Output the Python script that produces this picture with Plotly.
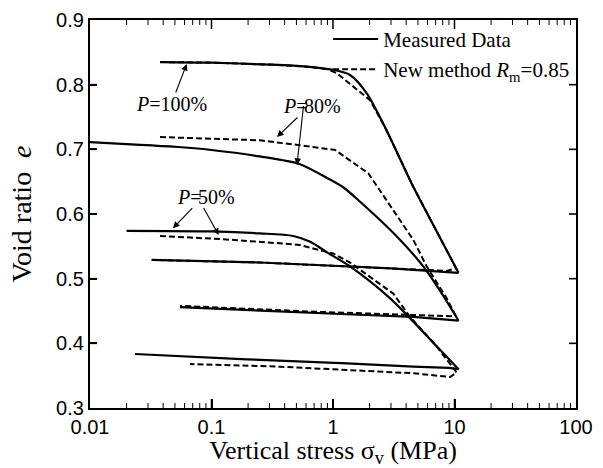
import plotly.graph_objects as go
import math

# ---- data ----
# P = 100 %
p100_load_x = [0.0377, 0.1, 0.3, 0.6, 1.0, 1.38, 1.89, 2.7, 4.58, 7.0, 10.8]
p100_load_e = [0.835, 0.834, 0.831, 0.828, 0.823, 0.815, 0.787, 0.733, 0.642, 0.576, 0.509]
p100_unload_x = [10.8, 6.0, 3.0, 1.0, 0.25, 0.0322]
p100_unload_e = [0.509, 0.512, 0.516, 0.520, 0.525, 0.529]
p100_model_x = [0.0377, 0.1, 0.3, 0.6, 0.9, 1.07, 2.02, 2.7, 4.58, 7.0, 10.3, 8.6, 3.0, 1.0, 0.25, 0.0322]
p100_model_e = [0.835, 0.834, 0.831, 0.828, 0.824, 0.818, 0.776, 0.733, 0.642, 0.576, 0.516, 0.512, 0.516, 0.520, 0.525, 0.529]

# P = 80 %
p80_load_x = [0.01, 0.02, 0.05, 0.1, 0.25, 0.534, 0.887, 1.22, 1.67, 3.13, 5.53, 8.05, 10.8]
p80_load_e = [0.711, 0.708, 0.704, 0.699, 0.689, 0.677, 0.656, 0.641, 0.619, 0.571, 0.519, 0.474, 0.435]
p80_unload_x = [10.8, 4.58, 1.3, 0.366, 0.055]
p80_unload_e = [0.435, 0.441, 0.445, 0.449, 0.456]
p80_model_x = [0.0377, 0.1, 0.25, 0.5, 1.04, 1.95, 3.13, 4.58, 5.9, 8.6, 10.2, 9.2, 2.44, 0.69, 0.055]
p80_model_e = [0.719, 0.717, 0.714, 0.707, 0.699, 0.663, 0.606, 0.560, 0.519, 0.470, 0.443, 0.442, 0.4455, 0.449, 0.458]

# P = 50 %
p50_load_x = [0.020, 0.1, 0.25, 0.471, 0.65, 0.887, 1.38, 2.94, 4.3, 7.0, 10.8]
p50_load_e = [0.574, 0.573, 0.570, 0.566, 0.557, 0.541, 0.519, 0.470, 0.439, 0.397, 0.360]
p50_unload_x = [10.8, 9.0, 4.58, 1.3, 0.195, 0.0235]
p50_unload_e = [0.360, 0.362, 0.364, 0.369, 0.3753, 0.3835]
p50_model_x = [0.0377, 0.125, 0.344, 0.534, 1.0, 1.38, 3.13, 4.3, 7.0, 10.4, 9.2, 4.58, 1.3, 0.366, 0.0665]
p50_model_e = [0.566, 0.561, 0.555, 0.552, 0.539, 0.525, 0.477, 0.441, 0.397, 0.355, 0.348, 0.3537, 0.3588, 0.3639, 0.368]

x_tickvals = [0.01, 0.1, 1, 10, 100]
x_ticktext = ["0.01", "0.1", "1", "10", "100"]
x_minor_tickvals = [d * k for d in [0.01, 0.1, 1, 10] for k in range(2, 10)]
y_tickvals = [0.3, 0.4, 0.5, 0.6, 0.7, 0.8, 0.9]
y_ticktext = ["0.3", "0.4", "0.5", "0.6", "0.7", "0.8", "0.9"]

# curve labels: each text part sits at (x, e) with given anchor and carries one arrow to a curve
label_text = ["<i>P</i>=100%", "<i>P</i>=", "80%", "<i>P</i>=", "50%"]
label_anchor = ["center", "right", "left", "right", "left"]
label_shift = [0, 3, -3, 3, -3]
label_x = [0.0467, 0.605, 0.605, 0.0807, 0.0807]
label_e = [0.770, 0.767, 0.767, 0.627, 0.627]
label_head_x = [0.0625, 0.3269, 0.535, 0.0455, 0.1213]
label_head_e = [0.8320, 0.7191, 0.6758, 0.5779, 0.5675]

SERIF = "Liberation Serif, Times New Roman, serif"
SANS = "Liberation Sans, Arial, sans-serif"

W, H = 603, 468
M = dict(l=90, r=27, t=20, b=60)
plot_w = W - M["l"] - M["r"]
plot_h = H - M["t"] - M["b"]
X_RANGE = [-2, 2]
Y_RANGE = [0.3, 0.9]

fig = go.Figure()

solid = dict(color="black", width=2.2)
dashed = dict(color="black", width=2.0, dash="6px,3px")

model_name = "New method <i>R</i><sub>m</sub>=0.85"
for i, (xs, es) in enumerate([(p100_model_x, p100_model_e), (p80_model_x, p80_model_e), (p50_model_x, p50_model_e)]):
    fig.add_trace(go.Scatter(x=xs, y=es, mode="lines", line=dashed,
                             name=model_name, showlegend=(i == 0), legendrank=2))
for i, (xs, es) in enumerate([(p100_load_x, p100_load_e), (p80_load_x, p80_load_e), (p50_load_x, p50_load_e)]):
    fig.add_trace(go.Scatter(x=xs, y=es, mode="lines", line=dict(solid, shape="spline", smoothing=0.8),
                             name="Measured Data", showlegend=(i == 0), legendrank=1))
for xs, es in [(p100_unload_x, p100_unload_e), (p80_unload_x, p80_unload_e), (p50_unload_x, p50_unload_e)]:
    fig.add_trace(go.Scatter(x=xs, y=es, mode="lines", line=solid,
                             name="Measured Data", showlegend=False))

# inward tick marks on all four sides, built from the tick lists (pixel length -> axis units)
e_per_px = (Y_RANGE[1] - Y_RANGE[0]) / plot_h
lg_per_px = (X_RANGE[1] - X_RANGE[0]) / plot_w

def x_tick_segments(vals, length_px):
    d = length_px * e_per_px
    xs, ys = [], []
    for v in vals:
        xs += [v, v, None, v, v, None]
        ys += [Y_RANGE[0], Y_RANGE[0] + d, None, Y_RANGE[1], Y_RANGE[1] - d, None]
    return xs, ys

def y_tick_segments(vals, length_px):
    x_left0, x_left1 = 10 ** X_RANGE[0], 10 ** (X_RANGE[0] + length_px * lg_per_px)
    x_right0, x_right1 = 10 ** X_RANGE[1], 10 ** (X_RANGE[1] - length_px * lg_per_px)
    xs, ys = [], []
    for v in vals:
        xs += [x_left0, x_left1, None, x_right0, x_right1, None]
        ys += [v, v, None, v, v, None]
    return xs, ys

for (xs, ys), w in [(x_tick_segments(x_tickvals[1:-1], 9), 1.5),
                    (x_tick_segments(x_minor_tickvals, 5), 1.0),
                    (y_tick_segments(y_tickvals[1:-1], 7), 1.6)]:
    fig.add_trace(go.Scatter(x=xs, y=ys, mode="lines", line=dict(color="black", width=w),
                             showlegend=False, hoverinfo="skip", cliponaxis=False))

annotations = []
for t, anc, sh, lx, le, hx, he in zip(label_text, label_anchor, label_shift, label_x, label_e, label_head_x, label_head_e):
    annotations.append(dict(x=math.log10(hx), y=he, xref="x", yref="y",
                            ax=math.log10(lx), ay=le, axref="x", ayref="y",
                            text=t, xanchor=anc, yanchor="middle", xshift=sh, borderpad=0,
                            showarrow=True, arrowhead=2, arrowsize=1.2, arrowwidth=1.1,
                            arrowcolor="black", standoff=0,
                            font=dict(family=SERIF, size=20, color="black")))

fig.update_layout(
    width=W, height=H,
    margin=M,
    paper_bgcolor="white", plot_bgcolor="white",
    showlegend=True,
    legend=dict(x=0.49, y=1.003, xanchor="left", yanchor="top",
                font=dict(family=SERIF, size=21, color="black"),
                bgcolor="rgba(0,0,0,0)", borderwidth=0, tracegroupgap=0,
                itemwidth=45),
    annotations=annotations,
    xaxis=dict(type="log", range=X_RANGE, tickvals=x_tickvals, ticktext=x_ticktext,
               ticks="inside", ticklen=9, tickwidth=1.5, tickcolor="black",
               showline=True, linecolor="black", linewidth=2.2, mirror=True,
               showgrid=False, zeroline=False, automargin=False,
               tickfont=dict(family=SANS, size=20, color="black"),
               title=dict(text="Vertical stress σ<sub>v</sub> (MPa)", font=dict(family=SERIF, size=26, color="black"))),
    yaxis=dict(range=Y_RANGE, tickvals=y_tickvals, ticktext=y_ticktext,
               ticks="inside", ticklen=7, tickwidth=1.6, tickcolor="black",
               showline=True, linecolor="black", linewidth=2.2, mirror=True,
               showgrid=False, zeroline=False, automargin=False,
               tickfont=dict(family=SANS, size=20, color="black"),
               title=dict(text="Void ratio  <i>e</i>", font=dict(family=SERIF, size=28, color="black"), standoff=16)),
)

fig.write_html("out.html")
